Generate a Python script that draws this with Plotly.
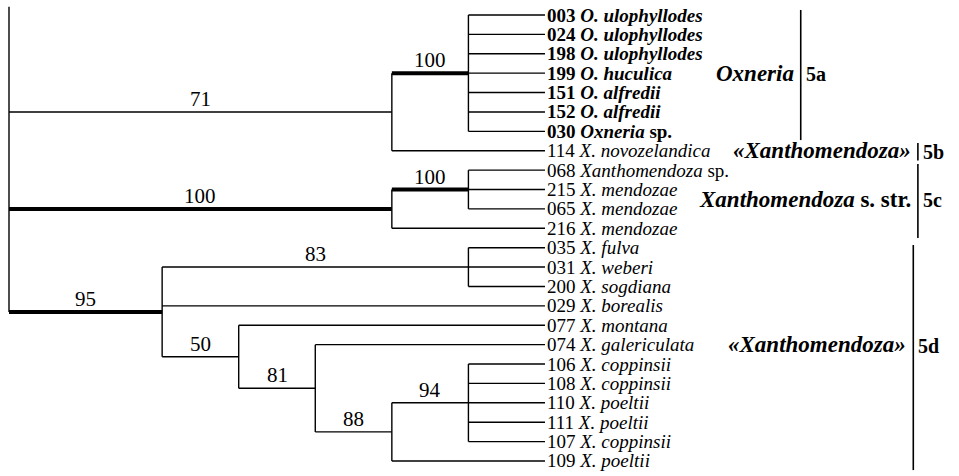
import plotly.graph_objects as go

# ---------------- data ----------------
# leaves, top to bottom
leaf_ids = ["003", "024", "198", "199", "151", "152", "030", "114",
            "068", "215", "065", "216", "035", "031", "200", "029",
            "077", "074", "106", "108", "110", "111", "107", "109"]
leaf_taxa = ["O. ulophyllodes", "O. ulophyllodes", "O. ulophyllodes", "O. huculica",
             "O. alfredii", "O. alfredii", "Oxneria", "X. novozelandica",
             "Xanthomendoza", "X. mendozae", "X. mendozae", "X. mendozae",
             "X. fulva", "X. weberi", "X. sogdiana", "X. borealis",
             "X. montana", "X. galericulata", "X. coppinsii", "X. coppinsii",
             "X. poeltii", "X. poeltii", "X. coppinsii", "X. poeltii"]
leaf_suffix = ["", "", "", "", "", "", "sp.", "",
               "sp.", "", "", "", "", "", "", "",
               "", "", "", "", "", "", "", ""]
leaf_bold = [True] * 7 + [False] * 17
leaf_parent = ["A1"] * 7 + ["A"] + ["B1"] * 3 + ["B"] + ["C1"] * 3 + ["C"] + \
              ["D"] + ["E"] + ["G"] * 5 + ["F"]
leaf_depth = 7

# internal nodes (cladogram depth levels)
node_ids = ["R", "A", "A1", "B", "B1", "C", "C1", "D", "E", "F", "G"]
node_parent = [None, "R", "A", "R", "B", "R", "C", "C", "D", "E", "F"]
node_depth = [0, 5, 6, 5, 6, 2, 6, 3, 4, 5, 6]
node_support = [None, "71", "100", "100", "100", "95", "83", "50", "81", "88", "94"]
node_thick = [False, False, True, True, True, True, False, False, False, False, False]
root_stem_top = -0.42

# clades on the right
clade_names = ["<b><i>Oxneria</i></b>", "<b><i>«Xanthomendoza»</i></b>",
               "<b><i>Xanthomendoza</i> s. str.</b>", "<b><i>«Xanthomendoza»</i></b>"]
clade_codes = ["5a", "5b", "5c", "5d"]
clade_top = [-0.26, 6.6, 7.68, 11.86]
clade_bottom = [6.45, 7.5, 11.5, 23.47]
clade_label_y = [3, 7, 9.5, 17]
clade_bar_x = [10.34, 11.87, 11.87, 11.81]

# ---------------- geometry from topology ----------------
depth = dict(zip(node_ids, node_depth))
parent = dict(zip(node_ids, node_parent))
children = {n: [] for n in node_ids}
ypos = {}
for i, (lid, p) in enumerate(zip(leaf_ids, leaf_parent)):
    key = "L" + lid
    ypos[key] = i
    depth[key] = leaf_depth
    parent[key] = p
    children[p].append(key)
for n, p in zip(node_ids, node_parent):
    if p is not None:
        children[p].append(n)


def y_of(n):
    if n in ypos:
        return ypos[n]
    ys = [y_of(c) for c in children[n]]
    ypos[n] = (min(ys) + max(ys)) / 2
    return ypos[n]


for n in node_ids:
    y_of(n)

thin_x, thin_y, thick_x, thick_y = [], [], [], []
thick = dict(zip(node_ids, node_thick))
# horizontal branches
for n in list(node_ids) + ["L" + l for l in leaf_ids]:
    p = parent[n]
    if p is None:
        continue
    xs = [depth[p], depth[n], None]
    ys = [ypos[n], ypos[n], None]
    if thick.get(n, False):
        thick_x += xs
        thick_y += ys
    else:
        thin_x += xs
        thin_y += ys
# vertical lines
for n in node_ids:
    ys = [ypos[c] for c in children[n]]
    top = min(ys)
    if parent[n] is None:
        top = root_stem_top
    thin_x += [depth[n], depth[n], None]
    thin_y += [top, max(ys), None]

# clade bars
bar_x, bar_y = [], []
for bx, t, b in zip(clade_bar_x, clade_top, clade_bottom):
    bar_x += [bx, bx, None]
    bar_y += [t, b, None]

fig = go.Figure()
fig.add_trace(go.Scatter(x=thin_x, y=thin_y, mode="lines",
                         line=dict(color="black", width=1.4), hoverinfo="skip"))
fig.add_trace(go.Scatter(x=thick_x, y=thick_y, mode="lines",
                         line=dict(color="black", width=4), hoverinfo="skip"))
fig.add_trace(go.Scatter(x=bar_x, y=bar_y, mode="lines",
                         line=dict(color="black", width=1.6), hoverinfo="skip"))

FONT = "Liberation Serif, Times New Roman, serif"
ann = []
# leaf labels
for i, (lid, tx, sf, bd) in enumerate(zip(leaf_ids, leaf_taxa, leaf_suffix, leaf_bold)):
    t = f"{lid} <i>{tx}</i>" + (f" {sf}" if sf else "")
    if bd:
        t = f"<b>{t}</b>"
    ann.append(dict(x=leaf_depth, y=i, text=t, xanchor="left", yanchor="middle",
                    xshift=0, showarrow=False,
                    font=dict(family=FONT, size=19, color="black")))
# support values
for n, s in zip(node_ids, node_support):
    if s is None:
        continue
    p = parent[n]
    ann.append(dict(x=(depth[p] + depth[n]) / 2, y=ypos[n], text=s,
                    xanchor="center", yanchor="bottom", yshift=-1, showarrow=False,
                    font=dict(family=FONT, size=21, color="black")))
# clade labels
for nm, cd, ly, bx in zip(clade_names, clade_codes, clade_label_y, clade_bar_x):
    ann.append(dict(x=bx, y=ly, text=nm, xanchor="right", yanchor="middle",
                    xshift=-5, showarrow=False,
                    font=dict(family=FONT, size=23, color="black")))
    ann.append(dict(x=bx, y=ly, text=f"<b>{cd}</b>", xanchor="left", yanchor="middle",
                    xshift=3, yshift=-1, showarrow=False,
                    font=dict(family=FONT, size=20, color="black")))

px_per_depth = 76.57
x0_px = 9
y_step = 19.39
y0_px = 15
W, H = 959, 476

fig.update_layout(
    width=W, height=H,
    margin=dict(l=0, r=0, t=0, b=0),
    paper_bgcolor="white", plot_bgcolor="white",
    showlegend=False,
    annotations=ann,
    xaxis=dict(range=[-x0_px / px_per_depth, (W - x0_px) / px_per_depth],
               visible=False, fixedrange=True),
    yaxis=dict(range=[(H - y0_px) / y_step, -y0_px / y_step],
               visible=False, fixedrange=True),
)
fig.write_html("out.html", config={"displayModeBar": False},
               post_script="document.body.style.margin='0';document.body.style.overflow='hidden';")
